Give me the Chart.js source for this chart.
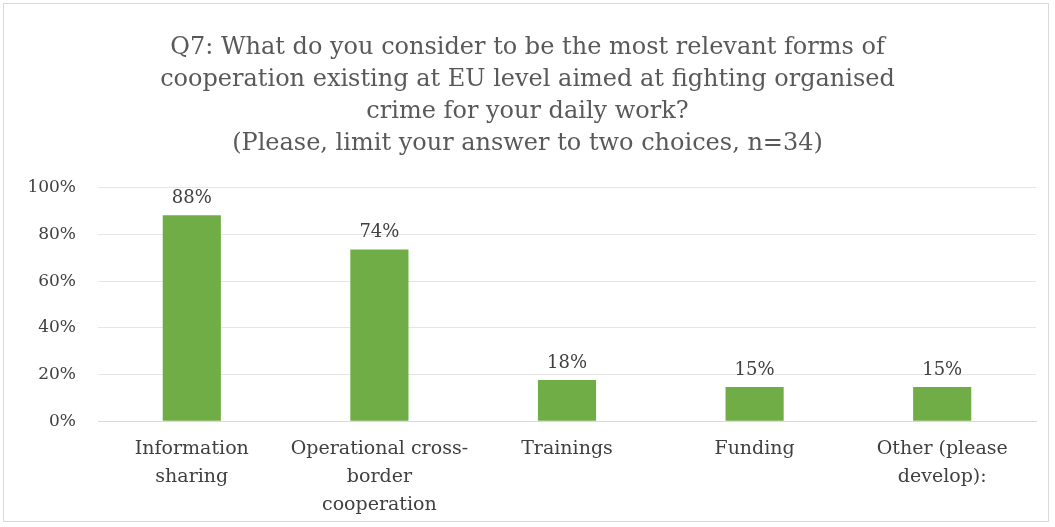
<!DOCTYPE html>
<html>
<head>
<meta charset="utf-8">
<script src="https://cdn.jsdelivr.net/npm/chart.js@4/dist/chart.umd.min.js"></script>
<style>
html,body{margin:0;padding:0;background:#fff;}
#wrap{position:absolute;left:3px;top:3px;width:1046px;height:519px;border:1px solid #d9d9d9;box-sizing:border-box;}
canvas{display:block;}
</style>
</head>
<body>
<div id="wrap"><canvas id="c"></canvas></div>
<script>
const categories = [
  ["Information", "sharing"],
  ["Operational cross-", "border", "cooperation"],
  ["Trainings"],
  ["Funding"],
  ["Other (please", "develop):"]
];
const values = [88.2, 73.5, 17.6, 14.7, 14.7];
const titleLines = [
  "Q7: What do you consider to be the most relevant forms of",
  "cooperation existing at EU level aimed at fighting organised",
  "crime for your daily work?",
  "(Please, limit your answer to two choices, n=34)"
];
const yTicks = [0, 20, 40, 60, 80, 100];

const serif = "'DejaVu Serif', 'Liberation Serif', serif";

const labelPlugin = {
  id: 'barLabels',
  afterDatasetsDraw(chart) {
    const ctx = chart.ctx;
    const meta = chart.getDatasetMeta(0);
    ctx.save();
    ctx.font = "18px " + serif;
    ctx.fillStyle = '#404040';
    ctx.textAlign = 'center';
    ctx.textBaseline = 'bottom';
    meta.data.forEach((bar, i) => {
      ctx.fillText(Math.round(values[i]) + '%', bar.x, bar.y - 8);
    });
    ctx.restore();
  }
};

new Chart(document.getElementById('c'), {
  type: 'bar',
  data: {
    labels: categories,
    datasets: [{
      data: values,
      backgroundColor: '#70ad47',
      borderWidth: 0,
      categoryPercentage: 1,
      barPercentage: 0.31
    }]
  },
  options: {
    responsive: true,
    maintainAspectRatio: false,
    animation: false,
    layout: { padding: { left: 15, right: 12, top: 28, bottom: -4 } },
    plugins: {
      legend: { display: false },
      tooltip: { enabled: false },
      title: {
        display: true,
        text: titleLines,
        color: '#595959',
        font: { family: serif, size: 24, weight: 'normal', lineHeight: 1.33 },
        padding: { top: 0, bottom: 28 }
      }
    },
    scales: {
      x: {
        grid: { display: false },
        border: { color: '#d9d9d9' },
        ticks: {
          color: '#404040',
          font: { family: serif, size: 19, lineHeight: 1.47 },
          maxRotation: 0,
          autoSkip: false,
          padding: 6
        }
      },
      y: {
        min: 0, max: 100,
        afterBuildTicks(scale) { scale.ticks = yTicks.map(v => ({ value: v })); },
        afterFit(scale) { scale.width = 79; },
        grid: { color: '#e6e6e6', drawTicks: false },
        border: { display: false },
        ticks: {
          color: '#404040',
          font: { family: serif, size: 17 },
          padding: 22,
          callback: v => v + '%'
        }
      }
    }
  },
  plugins: [labelPlugin]
});
</script>
</body>
</html>
